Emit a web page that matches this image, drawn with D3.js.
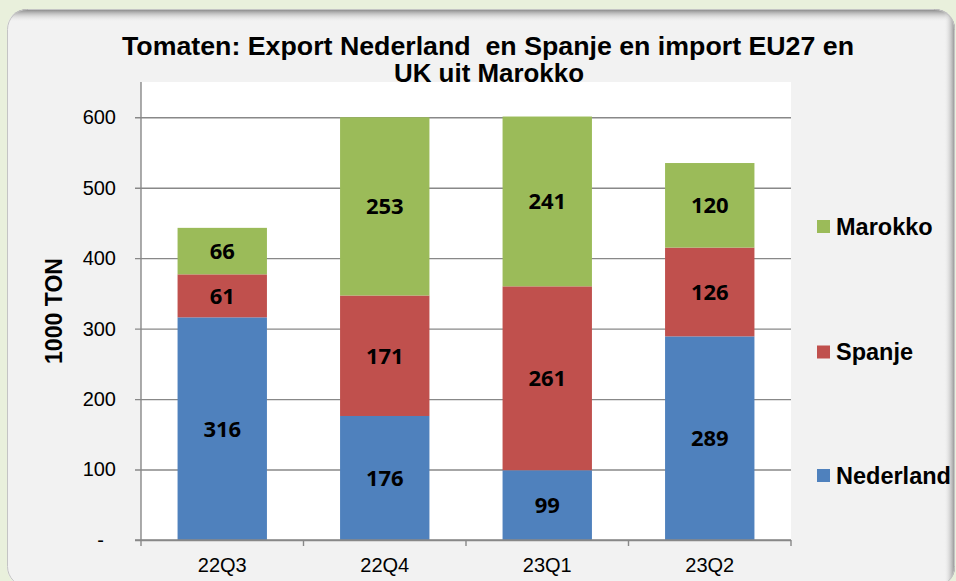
<!DOCTYPE html>
<html>
<head>
<meta charset="utf-8">
<script src="https://cdn.jsdelivr.net/npm/d3@7"></script>
<style>
  html, body { margin: 0; padding: 0; background: #e9f0dc; }
  svg { display: block; }
</style>
</head>
<body>
<svg id="chart" width="956" height="581"></svg>
<script>
// data
const quarters = ["22Q3", "22Q4", "23Q1", "23Q2"];
const nederland = [316, 176, 99, 289];
const spanje = [61, 171, 261, 126];
const marokko = [66, 253, 241, 120];
const seriesNames = ["Nederland", "Spanje", "Marokko"];
const seriesColors = ["#4f81bd", "#c0504d", "#9bbb59"];
const yTicks = [0, 100, 200, 300, 400, 500, 600];

const svg = d3.select("#chart");
const width = +svg.attr("width");
const height = +svg.attr("height");

// panel with rounded corners and a soft shadow on top/right
const panelBox = {x: 7, y: 9, w: 948, h: 578, r: 20};
const defs = svg.append("defs");
defs.append("clipPath").attr("id", "panelClip")
  .append("rect").attr("x", panelBox.x).attr("y", panelBox.y).attr("width", panelBox.w).attr("height", panelBox.h).attr("rx", panelBox.r);
const gTop = defs.append("linearGradient").attr("id", "shTop").attr("x1", 0).attr("y1", 0).attr("x2", 0).attr("y2", 1);
gTop.append("stop").attr("offset", "0%").attr("stop-color", "#7d7d7d");
gTop.append("stop").attr("offset", "100%").attr("stop-color", "#f2f2f2").attr("stop-opacity", 0);
const gRight = defs.append("linearGradient").attr("id", "shRight").attr("x1", 0).attr("y1", 0).attr("x2", 1).attr("y2", 0);
gRight.append("stop").attr("offset", "0%").attr("stop-color", "#f2f2f2").attr("stop-opacity", 0);
gRight.append("stop").attr("offset", "100%").attr("stop-color", "#8a8a8a");

const panel = svg.append("g").attr("clip-path", "url(#panelClip)");
panel.append("rect").attr("x", panelBox.x).attr("y", panelBox.y).attr("width", panelBox.w).attr("height", panelBox.h).attr("fill", "#f2f2f2");
panel.append("rect").attr("x", panelBox.x).attr("y", panelBox.y).attr("width", panelBox.w).attr("height", 13).attr("fill", "url(#shTop)");
panel.append("rect").attr("x", panelBox.x + panelBox.w - 11).attr("y", panelBox.y).attr("width", 11).attr("height", panelBox.h).attr("fill", "url(#shRight)");
svg.append("rect").attr("x", panelBox.x + 0.5).attr("y", panelBox.y + 0.5).attr("width", panelBox.w - 1).attr("height", panelBox.h - 1).attr("rx", panelBox.r)
  .attr("fill", "none").attr("stroke", "#c4c4c4").attr("stroke-width", 1);

const margin = {top: 82, right: 165, bottom: 41, left: 141};
const innerW = width - margin.left - margin.right;
const innerH = height - margin.top - margin.bottom;

const x = d3.scaleBand().domain(quarters).range([0, innerW]).paddingInner(0.45).paddingOuter(0.225);
const y = d3.scaleLinear().domain([0, 650]).range([innerH, 0]);

const rows = quarters.map((q, i) => ({q: q, Nederland: nederland[i], Spanje: spanje[i], Marokko: marokko[i]}));
const stacked = d3.stack().keys(seriesNames)(rows);
const color = d3.scaleOrdinal().domain(seriesNames).range(seriesColors);

// title (drawn before the plot area, which covers its lower edge a little)
const title = svg.append("text").attr("text-anchor", "middle")
  .attr("font-family", "Liberation Sans, Arial, sans-serif").attr("font-weight", 700).attr("font-size", 25);
title.append("tspan").attr("x", 488).attr("y", 55).attr("textLength", 732).attr("lengthAdjust", "spacingAndGlyphs")
  .attr("xml:space", "preserve").text("Tomaten: Export Nederland  en Spanje en import EU27 en");
title.append("tspan").attr("x", 489).attr("y", 82).attr("textLength", 190).attr("lengthAdjust", "spacingAndGlyphs")
  .text("UK uit Marokko");

const g = svg.append("g").attr("transform", `translate(${margin.left},${margin.top})`);
g.append("rect").attr("width", innerW).attr("height", innerH).attr("fill", "#fff");

// y axis + gridlines
const yAxis = g.append("g")
  .call(d3.axisLeft(y).tickValues(yTicks).tickSize(6).tickPadding(19)
    .tickFormat(d => d === 0 ? "-" : d));
yAxis.select(".domain").remove();
yAxis.selectAll(".tick line").attr("x2", innerW).attr("x1", -6).attr("stroke", "#888").attr("stroke-width", 1.4);
yAxis.selectAll(".tick text").attr("font-family", "Liberation Sans, Arial, sans-serif").attr("font-size", 20).attr("fill", "#000");
yAxis.selectAll(".tick text").filter(d => d === 0).attr("x", -37);
g.append("line").attr("x1", 0).attr("x2", 0).attr("y1", 0).attr("y2", innerH).attr("stroke", "#888").attr("stroke-width", 1.4);

// bars
const layers = g.selectAll(".layer").data(stacked).enter().append("g")
  .attr("fill", d => color(d.key));
layers.selectAll("rect").data(d => d).enter().append("rect")
  .attr("x", d => x(d.data.q))
  .attr("width", x.bandwidth())
  .attr("y", d => y(d[1]))
  .attr("height", d => y(d[0]) - y(d[1]));
layers.selectAll("text").data(d => d).enter().append("text")
  .attr("x", d => x(d.data.q) + x.bandwidth() / 2)
  .attr("y", d => (y(d[0]) + y(d[1])) / 2)
  .attr("dy", "0.36em")
  .attr("text-anchor", "middle")
  .attr("font-family", "Open Sans, sans-serif")
  .attr("font-weight", 700)
  .attr("font-size", 22)
  .attr("fill", "#000")
  .text(d => d[1] - d[0]);

// x axis with ticks between categories
const xAxis = g.append("g").attr("transform", `translate(0,${innerH})`)
  .call(d3.axisBottom(x).tickSize(0).tickPadding(18));
xAxis.select(".domain").remove();
xAxis.selectAll(".tick text").attr("font-family", "Liberation Sans, Arial, sans-serif").attr("font-size", 20).attr("fill", "#000");
g.append("line").attr("x1", -6).attr("x2", innerW).attr("y1", innerH).attr("y2", innerH).attr("stroke", "#888").attr("stroke-width", 1.4);
const step = x.step();
g.selectAll(".cattick").data(d3.range(quarters.length + 1)).enter().append("line")
  .attr("x1", i => x(quarters[0]) - x.paddingOuter() * step + i * step)
  .attr("x2", i => x(quarters[0]) - x.paddingOuter() * step + i * step)
  .attr("y1", innerH).attr("y2", innerH + 6)
  .attr("stroke", "#888").attr("stroke-width", 1.4);

// y axis title
svg.append("text")
  .attr("transform", "translate(62,311) rotate(-90)")
  .attr("text-anchor", "middle")
  .attr("font-family", "Liberation Sans, Arial, sans-serif").attr("font-weight", 700).attr("font-size", 23)
  .attr("textLength", 106).attr("lengthAdjust", "spacingAndGlyphs")
  .text("1000 TON");

// legend
const legendY = {Marokko: 226.5, Spanje: 352, Nederland: 475.5};
const legend = svg.selectAll(".legend").data(seriesNames.slice().reverse()).enter().append("g")
  .attr("transform", d => `translate(817,${legendY[d]})`);
legend.append("rect").attr("x", 0).attr("y", -6.5).attr("width", 13).attr("height", 13).attr("fill", d => color(d));
legend.append("text").attr("x", 19).attr("dy", "0.36em")
  .attr("font-family", "Liberation Sans, Arial, sans-serif").attr("font-weight", 700).attr("font-size", 23.5)
  .text(d => d);
</script>
</body>
</html>
